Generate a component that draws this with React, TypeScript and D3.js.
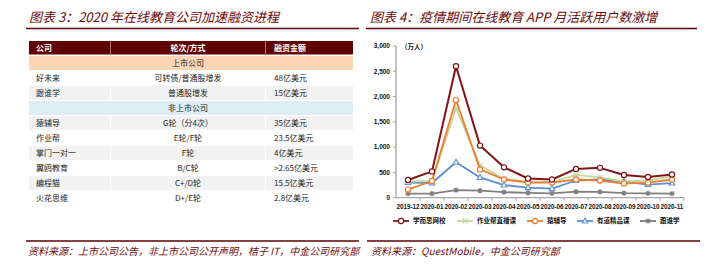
import { scaleBand, scaleLinear, line, range, format } from 'd3';

const tableHeaders = ['公司', '轮次/方式', '融资金额'];
const listedLabel = '上市公司';
const listedCompanies = ['好未来', '跟谁学'];
const listedRounds = ['可转债/普通股增发', '普通股增发'];
const listedAmounts = ['48亿美元', '15亿美元'];
const privateLabel = '非上市公司';
const privateCompanies = ['猿辅导', '作业帮', '掌门一对一', '翼鸥教育', '编程猫', '火花思维'];
const privateRounds = ['G轮（分4次）', 'E轮/F轮', 'F轮', 'B/C轮', 'C+/D轮', 'D+/E轮'];
const privateAmounts = ['35亿美元', '23.5亿美元', '4亿美元', '>2.65亿美元', '15.5亿美元', '2.8亿美元'];

const months = [
  '2019-12', '2020-01', '2020-02', '2020-03', '2020-04', '2020-05',
  '2020-06', '2020-07', '2020-08', '2020-09', '2020-10', '2020-11',
];
const seriesNames = ['学而思网校', '作业帮直播课', '猿辅导', '有道精品课', '跟谁学'];
const xueersi = [350, 520, 2600, 1030, 600, 380, 360, 570, 590, 450, 410, 460];
const zuoyebang = [320, 330, 1770, 640, 370, 320, 310, 450, 400, 320, 340, 420];
const yuanfudao = [160, 330, 1930, 560, 360, 300, 300, 360, 340, 280, 300, 360];
const youdao = [300, 290, 700, 400, 250, 200, 180, 340, 360, 320, 260, 290];
const genshuixue = [80, 80, 150, 140, 110, 95, 85, 120, 115, 90, 85, 80];
const yTicks = [0, 500, 1000, 1500, 2000, 2500, 3000];

const CJK = '"Noto Sans CJK SC", "Noto Sans", sans-serif';
const LATIN = '"Liberation Sans", Arial, sans-serif';
const DARK = '#6b0a0a';

const colors = ['#7f1518', '#c4d79b', '#ed7d31', '#5b8fd6', '#7f7f7f'];
const markers = ['circle', 'cross', 'circle', 'triangle', 'star'];
const seriesData = [xueersi, zuoyebang, yuanfudao, youdao, genshuixue];

function Marker({ kind, x, y, color }: { kind: string; x: number; y: number; color: string }) {
  if (kind === 'circle')
    return <circle cx={x} cy={y} r={2.6} fill="#fff" stroke={color} strokeWidth={1.2} />;
  if (kind === 'triangle')
    return (
      <path
        d={`M${x},${y - 3}L${x + 2.8},${y + 2}L${x - 2.8},${y + 2}Z`}
        fill="#fff"
        stroke={color}
        strokeWidth={1.1}
      />
    );
  if (kind === 'cross')
    return (
      <path
        d={`M${x - 2.5},${y - 2.5}L${x + 2.5},${y + 2.5}M${x + 2.5},${y - 2.5}L${x - 2.5},${y + 2.5}`}
        stroke={color}
        strokeWidth={1.1}
      />
    );
  return (
    <path
      d={`M${x - 2.6},${y}L${x + 2.6},${y}M${x},${y - 2.6}L${x},${y + 2.6}M${x - 1.9},${y - 1.9}L${x + 1.9},${y + 1.9}M${x + 1.9},${y - 1.9}L${x - 1.9},${y + 1.9}`}
      stroke={color}
      strokeWidth={1.2}
    />
  );
}

function FinanceTable() {
  type Row = { kind: 'group' | 'data'; c: string; r: string; a: string; gray: boolean };
  const rows: Row[] = [
    { kind: 'group', c: listedLabel, r: '', a: '', gray: false },
    ...listedCompanies.map((c, i) => ({ kind: 'data' as const, c, r: listedRounds[i], a: listedAmounts[i], gray: i % 2 === 1 })),
    { kind: 'group', c: privateLabel, r: '', a: '', gray: false },
    ...privateCompanies.map((c, i) => ({ kind: 'data' as const, c, r: privateRounds[i], a: privateAmounts[i], gray: i % 2 === 0 })),
  ];
  const yRow = scaleBand<number>().domain(range(rows.length)).range([56, 206]);
  const cols = [
    [29, 110],
    [111, 265],
    [266, 353],
  ];
  return (
    <g>
      <rect x={29} y={41} width={324} height={13.5} fill="#600000" />
      {cols.slice(0, 2).map((c, i) => (
        <line key={i} x1={c[1] + 0.5} x2={c[1] + 0.5} y1={41} y2={54.5} stroke="#b07070" strokeWidth={1} />
      ))}
      {tableHeaders.map((h, i) => (
        <text
          key={h}
          x={i === 1 ? 188 : cols[i][0] + (i === 0 ? 7 : 8)}
          y={50.8}
          textAnchor={i === 1 ? 'middle' : 'start'}
          fontFamily={CJK}
          fontWeight="bold"
          fontSize={8}
          fill="#fff"
        >
          {h}
        </text>
      ))}
      {rows.map((row, i) => {
        const y0 = yRow(i)!;
        const h = yRow.bandwidth() - 1;
        const ty = y0 + h / 2 + 3;
        if (row.kind === 'group') {
          return (
            <g key={i}>
              <rect x={29} y={y0} width={324} height={h} fill={i === 0 ? '#fcd5b4' : '#daeef3'} />
              <text x={188} y={ty} textAnchor="middle" fontFamily={CJK} fontSize={8} fill="#222">
                {row.c}
              </text>
            </g>
          );
        }
        return (
          <g key={i}>
            {cols.map((c, j) => (
              <rect key={j} x={c[0]} y={y0} width={c[1] - c[0]} height={h} fill={row.gray ? '#f2f2f2' : '#fff'} />
            ))}
            <text x={36} y={ty} fontFamily={CJK} fontSize={8} fill="#222">
              {row.c}
            </text>
            <text x={188} y={ty} textAnchor="middle" fontFamily={CJK} fontSize={8} fill="#222">
              {row.r}
            </text>
            <text x={274} y={ty} fontFamily={CJK} fontSize={8} fill="#222">
              {row.a}
            </text>
          </g>
        );
      })}
    </g>
  );
}

function MauChart() {
  const x = scaleBand<string>().domain(months).range([396, 684]);
  const y = scaleLinear().domain([0, 3000]).range([197.7, 46]);
  const cx = (m: string) => x(m)! + x.bandwidth() / 2;
  const fmt = format(',');
  const lineGen = line<number>()
    .x((_, i) => cx(months[i]))
    .y((d) => y(d));
  const legendX = [393, 457, 527, 577, 640];
  const drawOrder = [4, 3, 1, 2, 0];
  return (
    <g>
      <line x1={396} x2={396} y1={y(3000)} y2={y(0)} stroke="#a6a6a6" strokeWidth={1.3} />
      {yTicks.map((t) => (
        <g key={t}>
          <line x1={393} x2={396} y1={y(t)} y2={y(t)} stroke="#a6a6a6" />
          <text x={390} y={y(t) + 2.3} textAnchor="end" fontFamily={LATIN} fontWeight="bold" fontSize={6.5} fill="#111">
            {fmt(t)}
          </text>
        </g>
      ))}
      <text x={401} y={48.5} fontFamily={CJK} fontSize={6.5} fontWeight="bold" fill="#111">
        （万人）
      </text>
      <line x1={396} x2={684} y1={y(0)} y2={y(0)} stroke="#a6a6a6" strokeWidth={1.3} />
      {months.map((m) => (
        <g key={m}>
          <line x1={x(m)! + x.bandwidth()} x2={x(m)! + x.bandwidth()} y1={y(0)} y2={y(0) + 3} stroke="#a6a6a6" />
          <text x={cx(m)} y={209} textAnchor="middle" fontFamily={LATIN} fontWeight="bold" fontSize={6.3} fill="#111">
            {m}
          </text>
        </g>
      ))}
      {drawOrder.map((s) => (
        <g key={s}>
          <path d={lineGen(seriesData[s])!} fill="none" stroke={colors[s]} strokeWidth={s === 0 ? 2 : 1.8} strokeLinejoin="round" />
          {seriesData[s].map((v, i) => (
            <Marker key={i} kind={markers[s]} x={cx(months[i])} y={y(v)} color={colors[s]} />
          ))}
        </g>
      ))}
      {seriesNames.map((n, i) => (
        <g key={n}>
          <line x1={legendX[i]} x2={legendX[i] + 16} y1={221} y2={221} stroke={colors[i]} strokeWidth={1.8} />
          <Marker kind={markers[i]} x={legendX[i] + 8} y={221} color={colors[i]} />
          <text x={legendX[i] + 20} y={223.4} fontFamily={CJK} fontSize={6.5} fontWeight="bold" fill="#111">
            {n}
          </text>
        </g>
      ))}
    </g>
  );
}

export default function App() {
  return (
    <svg
      width={718}
      height={270}
      style={{ position: 'absolute', left: 0, top: 0, background: '#fff' }}
    >
      <text x={29} y={21.5} fontFamily={CJK} fontStyle="italic" fontSize={13} fill={DARK}>
        图表 3：2020 年在线教育公司加速融资进程
      </text>
      <line x1={26} x2={359} y1={28.5} y2={28.5} stroke="#5c0000" strokeWidth={1.3} />
      <text x={370} y={21.5} fontFamily={CJK} fontStyle="italic" fontSize={13} fill={DARK}>
        图表 4：疫情期间在线教育 APP 月活跃用户数激增
      </text>
      <line x1={366} x2={697} y1={28.5} y2={28.5} stroke="#5c0000" strokeWidth={1.3} />
      <FinanceTable />
      <MauChart />
      <line x1={26} x2={359} y1={241} y2={241} stroke="#5c0000" strokeWidth={1.3} />
      <text x={28} y={254.5} fontFamily={CJK} fontStyle="italic" fontSize={10} fill={DARK}>
        资料来源：上市公司公告，非上市公司公开声明，桔子 IT，中金公司研究部
      </text>
      <line x1={367} x2={700} y1={241} y2={241} stroke="#5c0000" strokeWidth={1.3} />
      <text x={371} y={254.5} fontFamily={CJK} fontStyle="italic" fontSize={10} fill={DARK}>
        资料来源：QuestMobile，中金公司研究部
      </text>
    </svg>
  );
}
